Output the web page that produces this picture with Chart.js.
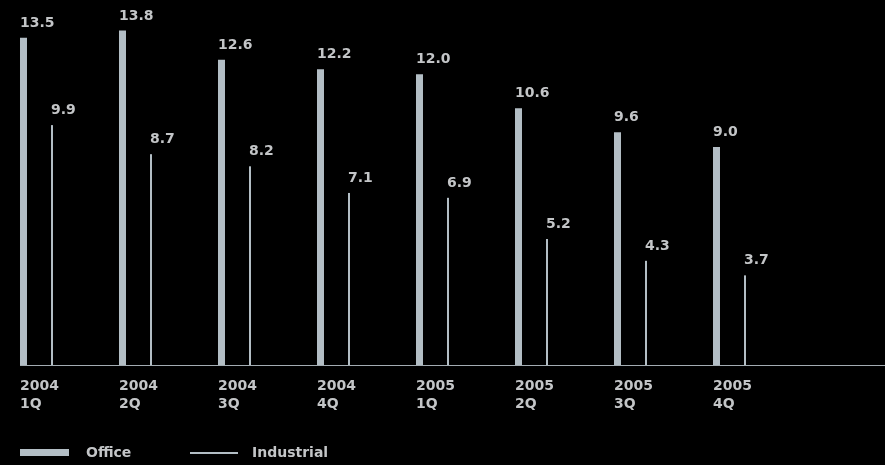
<!DOCTYPE html>
<html>
<head>
<meta charset="utf-8">
<script src="https://cdn.jsdelivr.net/npm/chart.js@4.4.1/dist/chart.umd.min.js"></script>
<style>
  html, body { margin: 0; padding: 0; background: #000; overflow: hidden; }
  canvas { display: block; }
</style>
</head>
<body>
<canvas id="vacancy" width="885" height="465"></canvas>
<script>
// Quarterly vacancy rates (%)
const years = ['2004', '2004', '2004', '2004', '2005', '2005', '2005', '2005'];
const quarters = ['1Q', '2Q', '3Q', '4Q', '1Q', '2Q', '3Q', '4Q'];
const office = [13.5, 13.8, 12.6, 12.2, 12.0, 10.6, 9.6, 9.0];
const industrial = [9.9, 8.7, 8.2, 7.1, 6.9, 5.2, 4.3, 3.7];
const seriesNames = ['Office', 'Industrial'];

const BAR_COLOR = '#b3bec5';
const TEXT_COLOR = '#c3c5c7';
const AXIS_COLOR = '#a3acb2';
const FONT_FAMILY = '"DejaVu Sans", "Liberation Sans", sans-serif';

const categories = years.map((y, i) => [y, quarters[i]]);

// Value printed above each bar, left-aligned with the bar
const valueLabels = {
  id: 'valueLabels',
  afterDatasetsDraw(chart) {
    const ctx = chart.ctx;
    ctx.save();
    ctx.fillStyle = TEXT_COLOR;
    ctx.font = 'bold 14px ' + FONT_FAMILY;
    ctx.textAlign = 'left';
    ctx.textBaseline = 'alphabetic';
    chart.data.datasets.forEach((ds, di) => {
      chart.getDatasetMeta(di).data.forEach((bar, i) => {
        ctx.fillText(ds.data[i].toFixed(1), bar.x - bar.width / 2, bar.y - 11);
      });
    });
    ctx.restore();
  }
};

// Baseline running from the first bar to the right edge
const baseline = {
  id: 'baseline',
  afterDatasetsDraw(chart) {
    const ctx = chart.ctx;
    const first = chart.getDatasetMeta(0).data[0];
    const y0 = chart.scales.y.getPixelForValue(0);
    ctx.save();
    ctx.fillStyle = AXIS_COLOR;
    ctx.fillRect(first.x - first.width / 2, Math.floor(y0), chart.width, 1);
    ctx.restore();
  }
};

// Legend row along the bottom
const bottomLegend = {
  id: 'bottomLegend',
  afterDraw(chart) {
    const ctx = chart.ctx;
    const ds = chart.data.datasets;
    ctx.save();
    ctx.font = 'bold 14px ' + FONT_FAMILY;
    ctx.textAlign = 'left';
    ctx.textBaseline = 'alphabetic';
    ctx.fillStyle = ds[0].backgroundColor;
    ctx.fillRect(20, 449, 49, 7);
    ctx.fillStyle = TEXT_COLOR;
    ctx.fillText(ds[0].label, 86, 457);
    ctx.fillStyle = ds[1].backgroundColor;
    ctx.fillRect(190, 452, 48, 2);
    ctx.fillStyle = TEXT_COLOR;
    ctx.fillText(ds[1].label, 252, 457);
    ctx.restore();
  }
};

new Chart(document.getElementById('vacancy'), {
  type: 'bar',
  data: {
    labels: categories,
    datasets: [
      {
        label: seriesNames[0],
        data: office,
        backgroundColor: BAR_COLOR,
        maxBarThickness: 7,
        barPercentage: 1,
        categoryPercentage: 0.5758,
        clip: false
      },
      {
        label: seriesNames[1],
        data: industrial,
        backgroundColor: BAR_COLOR,
        maxBarThickness: 2,
        barPercentage: 1,
        categoryPercentage: 0.5758,
        clip: false
      }
    ]
  },
  options: {
    responsive: false,
    animation: false,
    events: [],
    layout: { padding: { left: 37.75, right: 154.25, top: 1.5, bottom: 39 } },
    plugins: {
      legend: { display: false },
      tooltip: { enabled: false }
    },
    scales: {
      x: {
        offset: false,
        grid: { display: false, drawTicks: false },
        border: { display: false },
        ticks: {
          color: TEXT_COLOR,
          font: { family: FONT_FAMILY, size: 14, weight: 'bold', lineHeight: 1.32 },
          align: 'start',
          labelOffset: -17.75,
          padding: 12,
          maxRotation: 0,
          autoSkip: false
        }
      },
      y: { display: false, min: 0, max: 15 }
    }
  },
  plugins: [valueLabels, baseline, bottomLegend]
});
</script>
</body>
</html>
